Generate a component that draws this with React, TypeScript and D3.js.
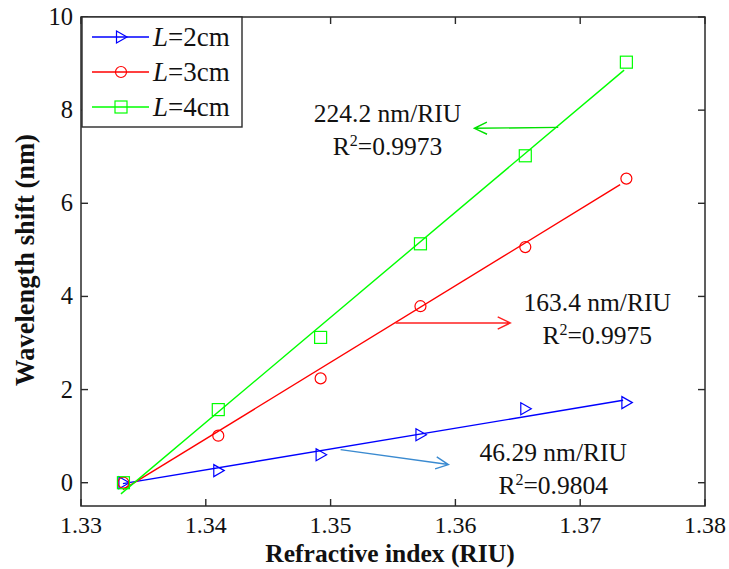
import React, { useEffect, useRef } from 'react';
import * as d3 from 'd3';

// refractive index of each sample
const riu = [1.3334, 1.341, 1.3492, 1.3572, 1.3656, 1.3737];

// measured wavelength shift (nm)
const shift2cm = [0, 0.26, 0.6, 1.03, 1.59, 1.72];
const shift3cm = [0, 1.01, 2.24, 3.79, 5.06, 6.53];
const shift4cm = [0, 1.57, 3.12, 5.13, 7.02, 9.03];

// linear fit end points [riu, shift]
const fit2cm = [[1.33336, -0.02], [1.37344, 1.77]];
const fit3cm = [[1.33336, -0.15], [1.3732, 6.4]];
const fit4cm = [[1.3332, -0.24], [1.37352, 8.86]];

const seriesNames = ['2cm', '3cm', '4cm'];
const xTicks = [1.33, 1.34, 1.35, 1.36, 1.37, 1.38];
const yTicks = [0, 2, 4, 6, 8, 10];

// annotations: slope text, R^2, arrow from -> to
const notes = [
  { slope: '224.2 nm/RIU', r2: '0.9973', tx: 1.35456, ty: 7.74, from: [1.36824, 7.63], to: [1.36152, 7.61], color: '#00e000' },
  { slope: '163.4 nm/RIU', r2: '0.9975', tx: 1.37136, ty: 3.69, from: [1.3552, 3.43], to: [1.3644, 3.43], color: '#ff2020' },
  { slope: '46.29 nm/RIU', r2: '0.9804', tx: 1.36784, ty: 0.47, from: [1.3508, 0.71], to: [1.35944, 0.39], color: '#3a8ad0' },
];

const App = () => {
  const svgRef = useRef(null);

  useEffect(() => {
    const width = 729;
    const height = 569;
    const marginLeft = 81;
    const marginRight = 24;
    const marginTop = 17;
    const marginBottom = 63;
    const font = "'Liberation Serif', 'DejaVu Serif', serif";

    const x = d3.scaleLinear()
      .domain([1.33, 1.38])
      .range([marginLeft, width - marginRight]);

    const y = d3.scaleLinear()
      .domain([-0.5, 10])
      .range([height - marginBottom, marginTop]);

    const svg = d3.select(svgRef.current);
    svg.selectAll('*').remove();

    svg.append('rect')
      .attr('width', width)
      .attr('height', height)
      .attr('fill', 'white');

    const series = [
      { values: shift2cm, fit: fit2cm, color: '#0000ff', marker: 'tri' },
      { values: shift3cm, fit: fit3cm, color: '#ff0000', marker: 'circle' },
      { values: shift4cm, fit: fit4cm, color: '#00ff00', marker: 'square' },
    ];

    const drawMarker = (g, kind, cx, cy, color) => {
      if (kind === 'tri') {
        g.append('path')
          .attr('d', `M${cx - 4.5},${cy - 6}L${cx + 6},${cy}L${cx - 4.5},${cy + 6}Z`)
          .attr('fill', 'none').attr('stroke', color).attr('stroke-width', 1.2);
      } else if (kind === 'circle') {
        g.append('circle')
          .attr('cx', cx).attr('cy', cy).attr('r', 5.5)
          .attr('fill', 'none').attr('stroke', color).attr('stroke-width', 1.2);
      } else {
        g.append('rect')
          .attr('x', cx - 6).attr('y', cy - 6).attr('width', 12).attr('height', 12)
          .attr('fill', 'none').attr('stroke', color).attr('stroke-width', 1.2);
      }
    };

    const line = d3.line()
      .x(d => x(d[0]))
      .y(d => y(d[1]));

    // fit lines and markers
    series.forEach(s => {
      svg.append('path')
        .datum(s.fit)
        .attr('fill', 'none')
        .attr('stroke', s.color)
        .attr('stroke-width', 1.4)
        .attr('d', line);
      const g = svg.append('g');
      s.values.forEach((v, i) => drawMarker(g, s.marker, x(riu[i]), y(v), s.color));
    });

    // frame
    const x0 = marginLeft, x1 = width - marginRight;
    const y0 = height - marginBottom, y1 = marginTop;
    svg.append('rect')
      .attr('x', x0).attr('y', y1)
      .attr('width', x1 - x0).attr('height', y0 - y1)
      .attr('fill', 'none').attr('stroke', '#2a2a2a').attr('stroke-width', 1.5);

    const tickLen = 7;
    const axisG = svg.append('g').attr('stroke', '#2a2a2a').attr('stroke-width', 1.4);
    xTicks.forEach(t => {
      axisG.append('line').attr('x1', x(t)).attr('x2', x(t)).attr('y1', y0).attr('y2', y0 - tickLen);
      axisG.append('line').attr('x1', x(t)).attr('x2', x(t)).attr('y1', y1).attr('y2', y1 + tickLen);
    });
    yTicks.forEach(t => {
      axisG.append('line').attr('x1', x0).attr('x2', x0 + tickLen).attr('y1', y(t)).attr('y2', y(t));
      axisG.append('line').attr('x1', x1).attr('x2', x1 - tickLen).attr('y1', y(t)).attr('y2', y(t));
    });

    svg.append('g')
      .selectAll('text')
      .data(xTicks)
      .join('text')
      .attr('x', d => x(d))
      .attr('y', y0 + 26.5)
      .attr('text-anchor', 'middle')
      .style('font-family', font)
      .attr('font-size', 24)
      .attr('fill', '#111')
      .text(d => d.toFixed(2));

    svg.append('g')
      .selectAll('text')
      .data(yTicks)
      .join('text')
      .attr('x', x0 - 8)
      .attr('y', d => y(d) + 8)
      .attr('text-anchor', 'end')
      .style('font-family', font)
      .attr('font-size', 24.5)
      .attr('fill', '#111')
      .text(d => d);

    // axis titles
    svg.append('text')
      .attr('x', 390)
      .attr('y', height - 7.5)
      .attr('text-anchor', 'middle')
      .style('font-family', font)
      .attr('font-weight', 'bold')
      .attr('font-size', 25.5)
      .attr('fill', '#111')
      .text('Refractive index (RIU)');

    svg.append('text')
      .attr('transform', 'translate(34, 260) rotate(-90)')
      .attr('text-anchor', 'middle')
      .style('font-family', font)
      .attr('font-weight', 'bold')
      .attr('font-size', 26.5)
      .attr('fill', '#111')
      .text('Wavelength shift (nm)');

    // annotations
    notes.forEach(n => {
      const fx = x(n.from[0]), fy = y(n.from[1]);
      const tx = x(n.to[0]), ty = y(n.to[1]);
      const ang = Math.atan2(ty - fy, tx - fx);
      const head = 14, spread = 0.45;
      svg.append('path')
        .attr('d', `M${fx},${fy}L${tx},${ty}` +
          `M${tx - head * Math.cos(ang - spread)},${ty - head * Math.sin(ang - spread)}L${tx},${ty}` +
          `L${tx - head * Math.cos(ang + spread)},${ty - head * Math.sin(ang + spread)}`)
        .attr('fill', 'none')
        .attr('stroke', n.color)
        .attr('stroke-width', 1.4);

      svg.append('text')
        .attr('x', x(n.tx))
        .attr('y', y(n.ty))
        .attr('text-anchor', 'middle')
        .style('font-family', font)
        .attr('font-size', 25.5)
        .attr('fill', '#111')
        .text(n.slope);

      const r = svg.append('text')
        .attr('x', x(n.tx))
        .attr('y', y(n.ty) + 33)
        .attr('text-anchor', 'middle')
        .style('font-family', font)
        .attr('font-size', 25.5)
        .attr('fill', '#111');
      r.append('tspan').text('R');
      r.append('tspan').attr('dy', -9).attr('font-size', 16).text('2');
      r.append('tspan').attr('dy', 9).text('=' + n.r2);
    });

    // legend
    const lg = svg.append('g');
    lg.append('rect')
      .attr('x', 82).attr('y', y1)
      .attr('width', 160).attr('height', 110)
      .attr('fill', 'white').attr('stroke', '#2a2a2a').attr('stroke-width', 1.4);
    series.forEach((s, i) => {
      const ly = 37 + i * 35;
      lg.append('line')
        .attr('x1', 92).attr('x2', 149).attr('y1', ly).attr('y2', ly)
        .attr('stroke', s.color).attr('stroke-width', 1.4);
      drawMarker(lg, s.marker, 121, ly, s.color);
      const t = lg.append('text')
        .attr('x', 153).attr('y', ly + 8.5)
        .style('font-family', font)
        .attr('font-size', 27)
        .attr('fill', '#111');
      t.append('tspan').attr('font-style', 'italic').text('L');
      t.append('tspan').text('=' + seriesNames[i]);
    });
  }, []);

  return (
    <svg
      ref={svgRef}
      width={729}
      height={569}
      style={{ position: 'absolute', left: 0, top: 0 }}
    />
  );
};

export default App;
